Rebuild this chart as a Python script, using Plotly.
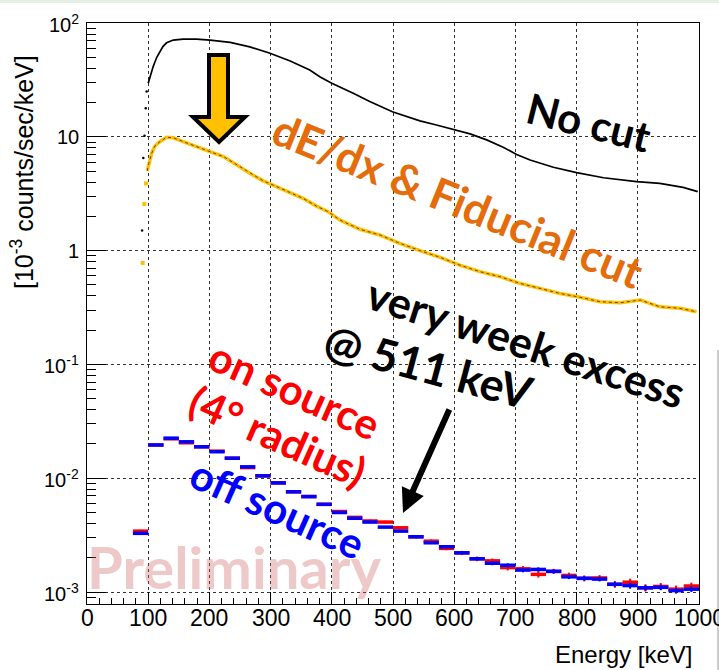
import math
import plotly.graph_objects as go

# ---------------- data ----------------
# "No cut" spectrum  [10^-3 counts/sec/keV]
nocut_energy = [90, 92, 94, 96, 97.5, 100, 104, 108, 114, 119, 124, 130, 141, 157, 179,
                201, 234, 266, 299, 332, 364, 381, 400, 435, 462, 499, 544, 571, 599,
                626, 653, 680, 702, 724, 762, 800, 844, 898, 936, 974, 998]
nocut_rate = [1.5, 6.5, 10.2, 17.8, 25, 29.5, 36, 41.3, 50, 56, 62, 67, 70.8, 72.3, 72.3,
              70.8, 67.6, 61.7, 54.2, 46.4, 38.6, 33.5, 29.5, 24.1, 20.4, 16.6, 13.8, 12.7, 11.6,
              10.6, 9.4, 8.1, 7.0, 6.25, 5.4, 4.84, 4.37, 4.04, 3.9, 3.6, 3.3]

# "dE/dx & Fiducial cut" spectrum
cut_energy = [91, 93.6, 96.4, 98.5, 101, 105.6, 111, 119, 130, 141, 157, 179, 201, 223,
              245, 266, 288, 310, 332, 353, 375, 394, 413, 446, 479, 511, 544, 577, 609,
              642, 675, 707, 740, 773, 806, 838, 871, 904, 936, 969, 996]
cut_rate = [0.78, 2.57, 3.9, 5.03, 5.85, 7.16, 8.3, 9.06, 9.9, 9.8, 9.06, 8.2, 7.4, 6.7,
            5.65, 4.78, 4.1, 3.65, 3.23, 2.88, 2.46, 2.2, 1.86, 1.54, 1.37, 1.16, 1.0, 0.873, 0.747,
            0.653, 0.59, 0.516, 0.466, 0.42, 0.389, 0.356, 0.348, 0.368, 0.321, 0.311, 0.29]

# 25 keV bins, on/off source
bin_center = [87.5, 112.5, 137.5, 162.5, 187.5, 212.5, 237.5, 262.5, 287.5, 312.5,
              337.5, 362.5, 387.5, 412.5, 437.5, 462.5, 487.5, 512.5, 537.5, 562.5,
              587.5, 612.5, 637.5, 662.5, 687.5, 712.5, 737.5, 762.5, 787.5, 812.5,
              837.5, 862.5, 887.5, 912.5, 937.5, 962.5, 987.5]
bin_halfwidth = [12.5] * len(bin_center)

on_source = [3.43e-3, 0.0196, 0.0222, 0.0205, 0.0189, 0.0173, 0.0150, 0.0124, 0.0105, 0.0091,
             0.0076, 0.0069, 0.0059, 0.0051, 0.00453, 0.00421, 0.00412, 0.00367, 0.00306, 0.0028,
             0.00242, 0.00221, 0.00196, 0.00188, 0.00164, 0.0016, 0.00143, 0.00152, 0.0014, 0.00132,
             0.00133, 0.00117, 0.00122, 0.00109, 0.00112, 0.00106, 0.00113]
on_source_err = [1.0e-4, 3e-4, 3e-4, 3e-4, 3e-4, 3e-4, 2.5e-4, 2.2e-4, 2.0e-4, 1.8e-4,
                 1.6e-4, 1.5e-4, 1.4e-4, 1.3e-4, 1.2e-4, 1.2e-4, 1.2e-4, 1.1e-4, 1.0e-4, 1.0e-4,
                 0.9e-4, 0.9e-4, 0.9e-4, 0.9e-4, 0.9e-4, 0.9e-4, 0.9e-4, 0.8e-4, 0.8e-4, 0.8e-4,
                 0.8e-4, 0.8e-4, 0.9e-4, 0.8e-4, 0.8e-4, 0.8e-4, 0.8e-4]

off_source = [3.28e-3, 0.0196, 0.0225, 0.0209, 0.0189, 0.0171, 0.0150, 0.0126, 0.0105, 0.0091,
              0.0076, 0.0069, 0.0059, 0.0050, 0.00445, 0.00412, 0.00372, 0.00343, 0.00306, 0.00271,
              0.0025, 0.00221, 0.00196, 0.00179, 0.00172, 0.00156, 0.00158, 0.00152, 0.00136, 0.00132,
              0.0013, 0.00117, 0.00114, 0.00109, 0.0011, 0.00103, 0.00106]
off_source_err = [0.8e-4, 2e-4, 2e-4, 2e-4, 2e-4, 2e-4, 1.8e-4, 1.6e-4, 1.4e-4, 1.3e-4,
                  1.2e-4, 1.1e-4, 1.0e-4, 0.9e-4, 0.9e-4, 0.9e-4, 0.8e-4, 0.8e-4, 0.8e-4, 0.7e-4,
                  0.7e-4, 0.7e-4, 0.7e-4, 0.7e-4, 0.7e-4, 0.7e-4, 0.7e-4, 0.6e-4, 0.6e-4, 0.6e-4,
                  0.6e-4, 0.6e-4, 0.7e-4, 0.6e-4, 0.6e-4, 0.6e-4, 0.6e-4]

x_ticks = [0, 100, 200, 300, 400, 500, 600, 700, 800, 900, 1000]
x_ticktext = ["0", "100", "200", "300", "400", "500", "600", "700", "800", "900", "1000"]
y_ticks = [1e-3, 1e-2, 1e-1, 1, 10, 100]
y_ticktext = ["10<sup>-3</sup>", "10<sup>-2</sup>", "10<sup>-1</sup>", "1", "10", "10<sup>2</sup>"]

# below this energy the spectra are drawn as isolated points (threshold edge)
edge_energy = 98

# ---------------- layout geometry (pixels) ----------------
W, H = 719, 670
L, R, T, B = 87, 699, 23, 604


def px(x, y):
    """pixel position -> paper coordinates"""
    return (x - L) / (R - L), (B - y) / (B - T)


def split(xs, ys, cut):
    lo = [(x, y) for x, y in zip(xs, ys) if x < cut]
    hi = [(x, y) for x, y in zip(xs, ys) if x >= cut]
    return [p[0] for p in lo], [p[1] for p in lo], [p[0] for p in hi], [p[1] for p in hi]


fig = go.Figure()

# No cut
bx0, by0, bx1, by1 = split(nocut_energy, nocut_rate, edge_energy)
fig.add_trace(go.Scatter(x=bx0, y=by0, mode="markers", marker=dict(color="black", size=2.5),
                         showlegend=False, hoverinfo="skip"))
fig.add_trace(go.Scatter(x=bx1, y=by1, mode="lines",
                         line=dict(color="black", width=1.7),
                         showlegend=False, hoverinfo="skip"))

# dE/dx & Fiducial cut: yellow band with dark core
ox0, oy0, ox1, oy1 = split(cut_energy, cut_rate, edge_energy)
fig.add_trace(go.Scatter(x=ox0, y=oy0, mode="markers",
                         marker=dict(color="#FFC000", size=4, symbol="square"),
                         showlegend=False, hoverinfo="skip"))
fig.add_trace(go.Scatter(x=ox1, y=oy1, mode="lines",
                         line=dict(color="#FFC000", width=3.5),
                         showlegend=False, hoverinfo="skip"))
fig.add_trace(go.Scatter(x=ox1, y=oy1, mode="lines",
                         line=dict(color="#3a2a00", width=0.8, dash="dot"),
                         showlegend=False, hoverinfo="skip"))

# on source (red) then off source (blue) histograms
for vals, errs, col in [(on_source, on_source_err, "#ff0000"),
                        (off_source, off_source_err, "#0000ff")]:
    fig.add_trace(go.Scatter(
        x=bin_center, y=vals, mode="markers",
        marker=dict(color=col, size=1),
        error_x=dict(type="data", array=bin_halfwidth, color=col, thickness=3.5, width=0),
        error_y=dict(type="data", array=errs, color=col, thickness=2, width=0),
        showlegend=False, hoverinfo="skip"))

fig.update_xaxes(
    range=[0, 1000], tickvals=x_ticks, showticklabels=False,
    ticks="inside", ticklen=12, tickcolor="black",
    showline=True, linecolor="black", linewidth=1, mirror=True,
    showgrid=True, gridcolor="#333", griddash="dot", gridwidth=1,
    minor=dict(dtick=20, ticks="inside", ticklen=6, tickcolor="black", showgrid=False),
    zeroline=False)

fig.update_yaxes(
    type="log", range=[-3.105, 2.0], tickvals=y_ticks, showticklabels=False,
    ticks="inside", ticklen=19, tickcolor="black",
    showline=True, linecolor="black", linewidth=1, mirror=True,
    showgrid=True, gridcolor="#333", griddash="dot", gridwidth=1,
    minor=dict(dtick="D1", ticks="inside", ticklen=9, tickcolor="black", showgrid=False),
    zeroline=False)

annotations = []
sans = "Liberation Sans, Arial, sans-serif"

# tick labels
_, lab_y = px(0, 618)
for v, t in zip(x_ticks, x_ticktext):
    annotations.append(dict(text=t, x=v, xref="x", y=lab_y, yref="paper", showarrow=False,
                            xanchor="center", yanchor="middle",
                            font=dict(size=23, family=sans, color="black")))
lab_x, _ = px(81, 0)
for v, t in zip(y_ticks, y_ticktext):
    annotations.append(dict(text=t, x=lab_x, xref="paper", y=math.log10(v), yref="y",
                            showarrow=False, xanchor="right", yanchor="middle",
                            font=dict(size=20, family=sans, color="black")))


def label(text, x, y, size, color, angle=0, family="Lato, Open Sans, sans-serif", weight="bold"):
    ax_, ay_ = px(x, y)
    annotations.append(dict(
        text=text, x=ax_, y=ay_, xref="paper", yref="paper", showarrow=False,
        xanchor="center", yanchor="middle", textangle=angle,
        font=dict(size=size, color=color, family=family, weight=weight)))


# axis titles
label("[10<sup>-3</sup> counts/sec/keV]", 22, 172, 25, "black", angle=-90,
      family=sans, weight="normal")
ex, ey = px(694, 655)
annotations.append(dict(text="Energy [keV]", x=ex, y=ey, xref="paper", yref="paper",
                        showarrow=False, xanchor="right", yanchor="middle",
                        font=dict(size=24, color="black", family=sans)))

# watermark
label("Preliminary", 234, 566, 58, "rgba(200,90,90,0.33)")

# curve labels
label("No cut", 589, 122, 42, "black", angle=14)
label("dE/dx &amp; Fiducial cut", 458, 200, 44, "#E46C0A", angle=22)
label("very week excess", 526, 342, 43, "black", angle=18)
label("@ 511 keV", 428, 366, 45, "black", angle=15)
label("on source", 295, 390, 42, "#ff0000", angle=24)
label("(4° radius)", 278, 436, 42, "#ff0000", angle=24)
label("off source", 277, 508, 42, "#0000ff", angle=24)

# black arrow pointing to the 511 keV bin
tx, ty = px(403, 513)
annotations.append(dict(text="", x=tx, y=ty, xref="paper", yref="paper", showarrow=True,
                        ax=47, ay=-105, arrowhead=2, arrowsize=0.8, arrowwidth=6,
                        arrowcolor="black", standoff=0))

# yellow block arrow
pts = [(209, 55), (228, 55), (228, 117), (245, 117), (219, 142), (193, 117), (209, 117)]
path = "M " + " L ".join("{:.5f},{:.5f}".format(*px(x, y)) for x, y in pts) + " Z"
shapes = [
    dict(type="path", path=path, xref="paper", yref="paper",
         fillcolor="#FFC000", line=dict(color="black", width=4)),
]
# slide frame remnants
x0, y0 = px(0, 0)
x1, y1 = px(W, 3)
shapes.append(dict(type="rect", xref="paper", yref="paper", x0=x0, y0=y0, x1=x1, y1=y1,
                   fillcolor="#e6efe6", line=dict(width=0), layer="below"))
x0, y0 = px(718, 350)
x1, y1 = px(718, 670)
shapes.append(dict(type="line", xref="paper", yref="paper", x0=x0, y0=y0, x1=x1, y1=y1,
                   line=dict(color="#9a9a9a", width=1)))

fig.update_layout(
    width=W, height=H, margin=dict(l=L, r=W - R, t=T, b=H - B),
    paper_bgcolor="white", plot_bgcolor="white",
    annotations=annotations, shapes=shapes, showlegend=False)

fig.write_html("out.html")
